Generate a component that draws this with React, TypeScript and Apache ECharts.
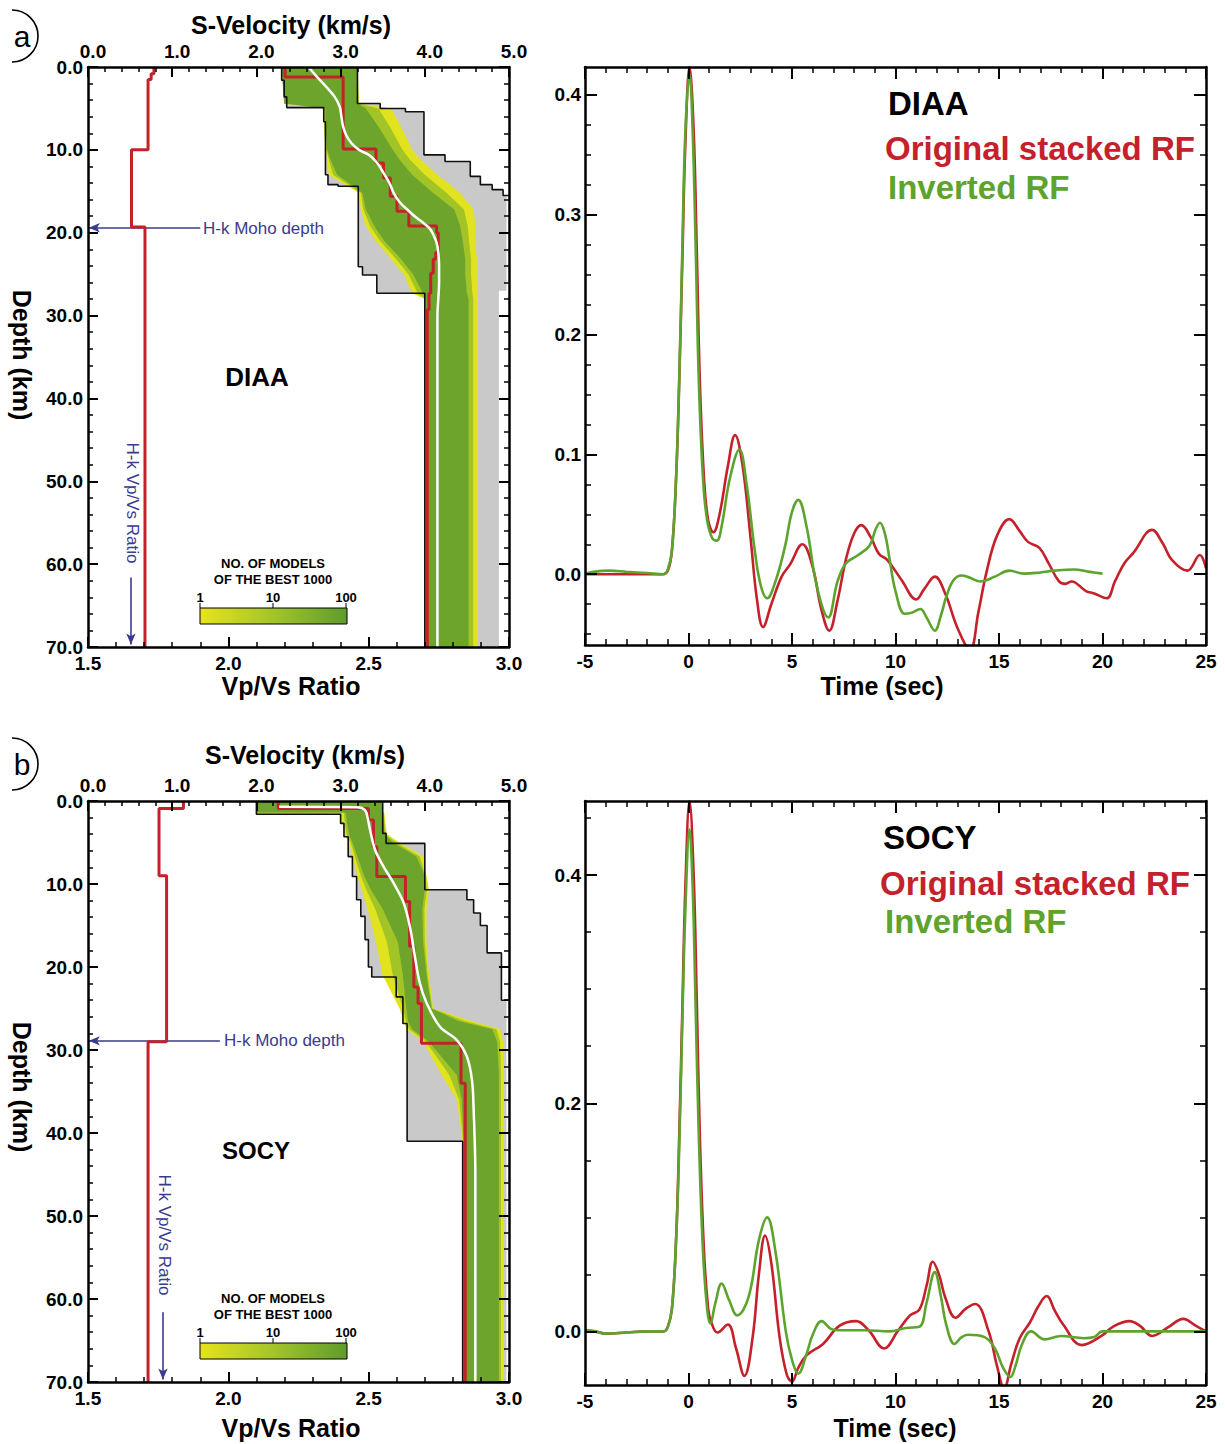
import React, { useEffect, useRef } from "react";
import * as echarts from "echarts";

const FONT = '"Liberation Sans", Arial, Helvetica, sans-serif';
const RED = "#c4212b";
const GREEN_LINE = "#5da42e";
const BLUE = "#3a3a8e";
const GRAY = "#c9c9c9";
const YELLOW = "#e2e31f";
const MIDGREEN = "#a3c427";
const COREGREEN = "#6ca42c";

// ---------- Receiver functions: [time (s), amplitude] ----------
const diaaOriginal: number[][] = [
  [-5, 0.0], [-4, 0.0], [-3, 0.0], [-2, 0.0], [-1.3, 0.0], [-1.0, 0.003], [-0.8, 0.02], [-0.6, 0.08],
  [-0.45, 0.16], [-0.3, 0.26], [-0.15, 0.36], [0.05, 0.423], [0.25, 0.37], [0.4, 0.27], [0.55, 0.16],
  [0.75, 0.08], [0.95, 0.045], [1.2, 0.035], [1.5, 0.05], [1.9, 0.09], [2.25, 0.116], [2.6, 0.092],
  [3.0, 0.03], [3.3, -0.02], [3.6, -0.044], [4.0, -0.025], [4.5, -0.002], [4.9, 0.008], [5.5, 0.025],
  [6.0, 0.006], [6.4, -0.028], [6.8, -0.047], [7.2, -0.022], [7.6, 0.012], [8.0, 0.034], [8.35, 0.041],
  [8.8, 0.031], [9.2, 0.017], [9.6, 0.012], [10.3, -0.005], [11.0, -0.021], [11.4, -0.012], [11.9, -0.002],
  [12.4, -0.016], [13.0, -0.045], [13.6, -0.063], [14.0, -0.032], [14.4, 0.002], [14.9, 0.032], [15.5, 0.046],
  [16.0, 0.036], [16.4, 0.027], [16.95, 0.022], [17.4, 0.009], [17.9, -0.006], [18.2, -0.008], [18.5, -0.006],
  [19.2, -0.014], [19.6, -0.016], [20.2, -0.02], [20.6, -0.006], [21.05, 0.009], [21.5, 0.018], [22.4, 0.037],
  [22.9, 0.026], [23.35, 0.012], [24.1, 0.003], [24.7, 0.016], [25, 0.005],
];
const diaaInverted: number[][] = [
  [-5, 0.0], [-4.6, 0.002], [-3.8, 0.003], [-3, 0.002], [-2, 0.001], [-1.2, 0.0], [-1.0, 0.004], [-0.8, 0.02],
  [-0.6, 0.08], [-0.45, 0.16], [-0.3, 0.27], [-0.15, 0.37], [0.05, 0.417], [0.2, 0.37], [0.35, 0.27],
  [0.5, 0.16], [0.7, 0.08], [0.9, 0.045], [1.15, 0.03], [1.37, 0.028], [1.6, 0.04], [2.0, 0.08], [2.46, 0.104],
  [2.8, 0.076], [3.2, 0.02], [3.5, -0.01], [3.8, -0.02], [4.2, -0.006], [4.66, 0.023], [5.0, 0.052], [5.3, 0.062],
  [5.7, 0.04], [6.2, -0.01], [6.75, -0.036], [7.2, -0.006], [7.6, 0.009], [8.2, 0.016], [8.75, 0.024],
  [9.05, 0.038], [9.25, 0.043], [9.5, 0.033], [9.7, 0.014], [10.0, -0.014], [10.45, -0.033], [10.8, -0.032],
  [11.2, -0.029], [11.5, -0.036], [11.9, -0.047], [12.2, -0.034], [12.45, -0.019], [12.8, -0.005], [13.2, -0.001],
  [13.6, -0.003], [14.1, -0.006], [14.8, -0.002], [15.5, 0.003], [16.2, 0.0005], [17.0, 0.0015], [17.7, 0.003],
  [18.6, 0.004], [19.4, 0.002], [20, 0.0005],
];
const socyOriginal: number[][] = [
  [-5, 0.001], [-4.5, 0.0], [-4, -0.002], [-3, -0.001], [-2, 0.0], [-1.2, 0.0], [-1.0, 0.004], [-0.8, 0.02],
  [-0.6, 0.08], [-0.45, 0.17], [-0.3, 0.28], [-0.15, 0.39], [0.05, 0.465], [0.25, 0.4], [0.4, 0.29],
  [0.55, 0.17], [0.75, 0.07], [0.95, 0.02], [1.1, 0.008], [1.4, -0.001], [1.9, 0.006], [2.3, -0.015],
  [2.7, -0.039], [3.1, -0.005], [3.4, 0.05], [3.7, 0.084], [4.0, 0.06], [4.4, -0.005], [4.75, -0.038],
  [5.0, -0.044], [5.3, -0.032], [5.7, -0.021], [6.5, -0.011], [7.3, 0.005], [8.1, 0.009], [8.7, 0.001],
  [9.45, -0.015], [10.1, 0.0], [10.7, 0.014], [11.15, 0.019], [11.5, 0.04], [11.8, 0.061], [12.1, 0.05],
  [12.4, 0.03], [12.9, 0.012], [13.4, 0.02], [13.85, 0.024], [14.5, 0.0], [14.9, -0.03], [15.25, -0.05],
  [15.6, -0.028], [16.0, -0.006], [16.5, 0.008], [16.9, 0.022], [17.3, 0.031], [17.7, 0.018], [18.1, 0.006],
  [19.0, -0.012], [19.95, -0.004], [20.5, 0.004], [21.3, 0.009], [21.8, 0.005], [22.4, -0.004], [23.2, 0.004],
  [23.9, 0.011], [24.5, 0.005], [25, 0.0],
];
const socyInverted: number[][] = [
  [-5, 0.001], [-4.5, 0.0], [-4, -0.002], [-3, -0.001], [-2, 0.0], [-1.2, 0.0], [-1.0, 0.004], [-0.8, 0.02],
  [-0.6, 0.08], [-0.45, 0.16], [-0.3, 0.27], [-0.15, 0.37], [0.05, 0.44], [0.2, 0.39], [0.35, 0.28],
  [0.5, 0.17], [0.7, 0.07], [0.9, 0.02], [1.05, 0.007], [1.3, 0.025], [1.6, 0.042], [1.95, 0.028],
  [2.35, 0.014], [2.9, 0.03], [3.4, 0.08], [3.8, 0.1], [4.2, 0.07], [4.7, 0.0], [5.0, -0.025], [5.3, -0.037],
  [5.7, -0.02], [6.0, -0.003], [6.43, 0.009], [6.9, 0.002], [7.3, 0.001], [8.5, 0.001], [9.7, 0.0],
  [10.5, 0.003], [11.15, 0.004], [11.5, 0.025], [11.9, 0.052], [12.2, 0.03], [12.45, 0.006], [12.85, -0.011],
  [13.2, -0.005], [13.5, -0.003], [14.3, -0.005], [14.8, -0.015], [15.2, -0.032], [15.55, -0.04], [15.8, -0.03],
  [16.1, -0.012], [16.55, 0.0], [17.2, -0.007], [18.0, -0.004], [19.1, -0.006], [19.6, -0.005], [20, 0.0],
  [25, 0.0],
];

// ---------- Velocity models: [S-velocity (km/s), depth (km)] ----------
const diaaEnvelopeLeft: number[][] = [
  [2.30, 0], [2.30, 1.6], [2.33, 1.6], [2.33, 3.6], [2.36, 3.6], [2.36, 4.9], [2.80, 4.9], [2.80, 6.6],
  [2.82, 6.6], [2.82, 13.0], [2.85, 13.0], [2.85, 14.2], [2.97, 14.2], [2.97, 14.4], [3.21, 14.4],
  [3.21, 24.1], [3.26, 24.1], [3.26, 25.1], [3.43, 25.1], [3.43, 27.3], [4.00, 27.3], [4.00, 70],
];
const diaaEnvelopeRight: number[][] = [
  [3.20, 0], [3.20, 4.4], [3.47, 4.4], [3.47, 5.0], [3.77, 5.0], [3.77, 5.4], [3.99, 5.4], [3.99, 10.6],
  [4.24, 10.6], [4.24, 11.4], [4.54, 11.4], [4.54, 13.2], [4.66, 13.2], [4.66, 14.2], [4.80, 14.2],
  [4.80, 14.8], [4.93, 14.8], [4.93, 15.5], [5.0, 15.5],
];
const diaaGrayTail: number[][] = [[4.97, 15.5], [4.97, 27], [4.88, 27], [4.88, 70]];
const diaaBandDepth = [0, 4.4, 5.0, 7.2, 10, 11.2, 13, 15.2, 17.2, 19.2, 21, 23.2, 25, 27.3, 28, 70];
const diaaOuterLeft = [2.30, 2.33, 2.80, 2.80, 2.82, 2.84, 2.86, 3.22, 3.24, 3.30, 3.42, 3.60, 3.75, 3.85, 4.00, 4.00];
const diaaOuterRight = [3.20, 3.22, 3.60, 3.72, 3.85, 3.95, 4.15, 4.42, 4.58, 4.60, 4.60, 4.62, 4.62, 4.63, 4.63, 4.63];
const diaaCoreLeft = [2.30, 2.33, 2.82, 2.82, 2.84, 2.88, 2.96, 3.26, 3.30, 3.40, 3.52, 3.72, 3.86, 3.98, 4.01, 4.01];
const diaaCoreRight = [3.20, 3.20, 3.30, 3.45, 3.62, 3.70, 3.85, 4.10, 4.35, 4.42, 4.45, 4.48, 4.48, 4.50, 4.52, 4.52];
const diaaBestModel: number[][] = [
  [2.34, 0], [2.34, 1.2], [3.03, 1.2], [3.03, 9.9], [3.42, 9.9], [3.42, 11.6], [3.51, 11.6], [3.51, 13.4],
  [3.59, 13.4], [3.59, 15.6], [3.67, 15.6], [3.67, 17.4], [3.81, 17.4], [3.81, 19.2], [4.14, 19.2],
  [4.14, 20.0], [4.16, 20.0], [4.16, 22.4], [4.13, 22.4], [4.13, 23.2], [4.10, 23.2], [4.10, 24.9],
  [4.07, 24.9], [4.07, 27.3], [4.05, 27.3], [4.05, 29.3], [4.03, 29.3], [4.03, 70],
];
const diaaMeanModel: number[][] = [
  [2.62, 0], [2.72, 1.2], [2.83, 2.4], [2.93, 3.6], [2.99, 4.8], [3.01, 6], [3.03, 7.2], [3.07, 8.3],
  [3.13, 9.2], [3.22, 10], [3.35, 10.7], [3.45, 11.8], [3.51, 12.8], [3.58, 14], [3.63, 15.2], [3.70, 16.3],
  [3.79, 17.2], [3.89, 18.1], [3.98, 18.8], [4.06, 19.5], [4.10, 20.2], [4.14, 21.2], [4.16, 22.4],
  [4.17, 24], [4.17, 26], [4.16, 28], [4.15, 30], [4.15, 70],
];
// Vp/Vs profile: [Vp/Vs, depth]
const diaaVpVs: number[][] = [
  [1.735, 0], [1.735, 0.8], [1.725, 0.8], [1.725, 1.5], [1.714, 1.5], [1.714, 10], [1.655, 10],
  [1.655, 19.3], [1.703, 19.3], [1.703, 70],
];
const diaaMohoDepth = 19.4;
const diaaHkVpVs = 1.653;

const socyEnvelopeLeft: number[][] = [
  [2.0, 0], [2.0, 1.6], [3.0, 1.6], [3.0, 2.7], [3.04, 2.7], [3.04, 4.3], [3.09, 4.3], [3.09, 6.7],
  [3.14, 6.7], [3.14, 9.1], [3.19, 9.1], [3.19, 11.9], [3.24, 11.9], [3.24, 13.9], [3.29, 13.9],
  [3.29, 16.7], [3.33, 16.7], [3.33, 20.0], [3.37, 20.0], [3.37, 21.2], [3.66, 21.2], [3.66, 23.6],
  [3.74, 23.6], [3.74, 26.8], [3.79, 26.8], [3.79, 41], [4.45, 41], [4.45, 70],
];
const socyEnvelopeRight: number[][] = [
  [3.50, 0], [3.50, 3.9], [3.54, 3.9], [3.54, 5.1], [4.0, 5.1], [4.0, 10.7], [4.50, 10.7], [4.50, 11.9],
  [4.58, 11.9], [4.58, 13.5], [4.66, 13.5], [4.66, 15.0], [4.74, 15.0], [4.74, 18.3], [4.91, 18.3],
  [4.91, 24], [5.0, 24],
];
const socyGrayTail: number[][] = [[4.97, 24], [4.97, 70]];
const socyBandDepth = [0, 1.4, 1.4, 4, 5, 6.7, 9, 10.7, 13, 17, 21, 25, 26.5, 27.5, 29, 33, 36, 41, 70];
const socyOuterLeft = [2.0, 2.0, 3.01, 3.04, 3.10, 3.14, 3.20, 3.25, 3.32, 3.42, 3.50, 3.70, 3.75, 3.78, 3.98, 4.20, 4.38, 4.45, 4.45];
const socyOuterRight = [3.5, 3.5, 3.52, 3.55, 3.70, 3.98, 4.02, 4.05, 4.02, 4.02, 4.05, 4.10, 4.55, 4.90, 4.93, 4.93, 4.93, 4.93, 4.93];
const socyCoreLeft = [2.0, 2.0, 3.06, 3.10, 3.14, 3.20, 3.28, 3.36, 3.50, 3.68, 3.74, 3.78, 3.80, 3.85, 4.05, 4.38, 4.44, 4.46, 4.46];
const socyCoreRight = [3.5, 3.5, 3.5, 3.52, 3.62, 3.90, 4.00, 4.00, 3.97, 3.98, 4.02, 4.08, 4.40, 4.80, 4.86, 4.88, 4.88, 4.88, 4.88];
const socyBestModel: number[][] = [
  [2.26, 0], [2.26, 0.9], [3.33, 0.9], [3.33, 2.3], [3.39, 2.3], [3.39, 5.5], [3.43, 5.5], [3.43, 9.1],
  [3.77, 9.1], [3.77, 12.1], [3.82, 12.1], [3.82, 17.5], [3.87, 17.5], [3.87, 22.4], [3.92, 22.4],
  [3.92, 24.4], [3.96, 24.4], [3.96, 29.2], [4.43, 29.2], [4.43, 34], [4.48, 34], [4.48, 70],
];
const socyMeanModel: number[][] = [
  [2.27, 0.7], [3.2, 0.75], [3.29, 1.1], [3.32, 2], [3.35, 3.5], [3.41, 5.9], [3.51, 7.9], [3.63, 9.9],
  [3.75, 12.3], [3.83, 15.5], [3.88, 18.6], [3.94, 21.9], [4.02, 24.3], [4.18, 27.2], [4.38, 28.8],
  [4.5, 30.8], [4.56, 33.6], [4.58, 37.2], [4.6, 45], [4.6, 70],
];
const socyVpVs: number[][] = [
  [1.84, 0], [1.84, 0.9], [1.753, 0.9], [1.753, 9], [1.78, 9], [1.78, 29.0], [1.714, 29.0], [1.714, 70],
];
const socyMohoDepth = 28.9;
const socyHkVpVs = 1.767;

// ---------- Tick values ----------
const velTickFmt = (v: number) => v.toFixed(1);
const diaaAmpMajor = [0, 0.1, 0.2, 0.3, 0.4];
const diaaAmpRange = [-0.059, 0.423];
const socyAmpMajor = [0, 0.2, 0.4];
const socyAmpRange = [-0.047, 0.465];

function minorValues(min: number, max: number, step: number, majors: number[]) {
  const out: number[] = [];
  const start = Math.ceil(min / step - 1e-9);
  for (let k = start; k * step <= max + 1e-9; k++) {
    const v = +(k * step).toFixed(4);
    if (!majors.some((m) => Math.abs(m - v) < 1e-6)) out.push(v);
  }
  return out;
}

function bandPolygon(depth: number[], left: number[], right: number[]) {
  const pts = depth.map((d, i) => [left[i], d]);
  for (let i = depth.length - 1; i >= 0; i--) pts.push([right[i], depth[i]]);
  return pts;
}
const avg = (a: number[], b: number[]) => a.map((v, i) => (v + b[i]) / 2);

const tickLine = { color: "#000", width: 2 };
const frameLine = { show: true, onZero: false, lineStyle: { color: "#000", width: 2.5 } };
const noLine = { show: false, onZero: false };
const labelStyle = { color: "#000", fontFamily: FONT, fontWeight: "bold" as const, fontSize: 19 };

function polySeries(points: number[][], xi: number, yi: number, fill: string, z: number) {
  return {
    type: "custom",
    xAxisIndex: xi,
    yAxisIndex: yi,
    z,
    silent: true,
    clip: true,
    data: [[points[0][0], points[0][1]]],
    renderItem: (_p: any, api: any) => ({
      type: "polygon",
      shape: { points: points.map((p) => api.coord(p)) },
      style: { fill, stroke: "none" },
    }),
  };
}

function lineSeries(data: number[][], xi: number, yi: number, color: string, width: number, z: number, smooth: any = false) {
  return {
    type: "line",
    xAxisIndex: xi,
    yAxisIndex: yi,
    data,
    symbol: "none",
    showSymbol: false,
    smooth,
    z,
    silent: true,
    clip: true,
    lineStyle: { color, width },
  };
}

function modelSeries(
  xVel: number, xVp: number, yDepth: number,
  envL: number[][], envR: number[][], grayTail: number[][],
  depth: number[], outerL: number[], outerR: number[], coreL: number[], coreR: number[],
  best: number[][], mean: number[][], vpvs: number[][], moho: number, hk: number, mohoStart: number
) {
  const grayPoly = [...envL, ...grayTail.slice().reverse(), ...envR.slice().reverse()];
  const midL = avg(outerL, coreL);
  const midR = avg(outerR, coreR);
  const vpSeries: any = lineSeries(vpvs, xVp, yDepth, RED, 3, 6);
  vpSeries.markLine = {
    silent: true,
    symbol: ["none", "arrow"],
    symbolSize: [7, 11],
    lineStyle: { color: BLUE, width: 1.6, type: "solid" },
    label: { show: false },
    emphasis: { disabled: true },
    data: [
      [{ coord: [mohoStart, moho] }, { coord: [1.503, moho] }],
      [{ coord: [hk, 61.6] }, { coord: [hk, 69.7] }],
    ],
  };
  return [
    polySeries(grayPoly, xVel, yDepth, GRAY, 1),
    polySeries(bandPolygon(depth, outerL, outerR), xVel, yDepth, YELLOW, 2),
    polySeries(bandPolygon(depth, midL, midR), xVel, yDepth, MIDGREEN, 2),
    polySeries(bandPolygon(depth, coreL, coreR), xVel, yDepth, COREGREEN, 2),
    lineSeries(envL, xVel, yDepth, "#111", 1.6, 3),
    lineSeries(envR, xVel, yDepth, "#111", 1.6, 3),
    lineSeries(best, xVel, yDepth, RED, 3, 4),
    lineSeries(mean, xVel, yDepth, "#ffffff", 2.5, 5, 0.35),
    vpSeries,
  ];
}

const minorTickStyle = { color: "#000", width: 1.5 };

function leftAxes(grid: number) {
  const x = [
    {
      type: "value", gridIndex: grid, position: "top", min: 0, max: 5, interval: 1, z: 10,
      axisLine: frameLine,
      axisTick: { show: true, inside: true, length: 10, lineStyle: tickLine },
      minorTick: { show: true, splitNumber: 5, length: 5, lineStyle: minorTickStyle },
      axisLabel: { ...labelStyle, margin: 6, formatter: velTickFmt, padding: [0, 0, 0, 10] },
      splitLine: { show: false }, minorSplitLine: { show: false },
    },
    {
      type: "value", gridIndex: grid, position: "bottom", min: 1.5, max: 3.0, interval: 0.5, z: 10,
      axisLine: frameLine,
      axisTick: { show: true, inside: true, length: 10, lineStyle: tickLine },
      minorTick: { show: true, splitNumber: 5, length: 5, lineStyle: minorTickStyle },
      axisLabel: { ...labelStyle, margin: 7, formatter: velTickFmt },
      splitLine: { show: false }, minorSplitLine: { show: false },
    },
  ];
  const y = [
    {
      type: "value", gridIndex: grid, position: "left", inverse: true, min: 0, max: 70, interval: 10, z: 10,
      axisLine: frameLine,
      axisTick: { show: true, inside: true, length: 10, lineStyle: tickLine },
      minorTick: { show: true, splitNumber: 5, length: 5, lineStyle: minorTickStyle },
      axisLabel: { ...labelStyle, margin: 5, formatter: velTickFmt },
      splitLine: { show: false }, minorSplitLine: { show: false },
    },
    {
      type: "value", gridIndex: grid, position: "right", inverse: true, min: 0, max: 70, interval: 10, z: 10,
      axisLine: frameLine,
      axisTick: { show: true, inside: true, length: 10, lineStyle: tickLine },
      minorTick: { show: true, splitNumber: 5, length: 5, lineStyle: minorTickStyle },
      axisLabel: { show: false },
      splitLine: { show: false }, minorSplitLine: { show: false },
    },
  ];
  return { x, y };
}

function rightAxes(grid: number, range: number[], majors: number[], minorStep: number) {
  const minors = minorValues(range[0], range[1], minorStep, majors);
  const tx = (pos: string, labels: boolean) => ({
    type: "value", gridIndex: grid, position: pos, min: -5, max: 25, interval: 5, z: 10,
    axisLine: frameLine,
    axisTick: { show: true, inside: true, length: 12, lineStyle: tickLine },
    minorTick: { show: true, splitNumber: 5, length: 6, lineStyle: minorTickStyle },
    axisLabel: labels ? { ...labelStyle, margin: 7 } : { show: false },
    splitLine: { show: false }, minorSplitLine: { show: false },
  });
  const base = { type: "value", gridIndex: grid, min: range[0], max: range[1], z: 10, splitLine: { show: false } };
  const y = [
    {
      ...base, position: "left", axisLine: frameLine,
      axisTick: { show: true, inside: true, length: 12, customValues: majors, lineStyle: tickLine },
      axisLabel: { ...labelStyle, margin: 4, customValues: majors, formatter: (v: number) => v.toFixed(1) },
    },
    {
      ...base, position: "left", axisLine: noLine,
      axisTick: { show: true, inside: true, length: 6, customValues: minors, lineStyle: minorTickStyle },
      axisLabel: { show: false },
    },
    {
      ...base, position: "right", axisLine: frameLine,
      axisTick: { show: true, inside: true, length: 12, customValues: majors, lineStyle: tickLine },
      axisLabel: { show: false },
    },
    {
      ...base, position: "right", axisLine: noLine,
      axisTick: { show: true, inside: true, length: 6, customValues: minors, lineStyle: minorTickStyle },
      axisLabel: { show: false },
    },
  ];
  return { x: [tx("bottom", true), tx("top", false)], y };
}

function txt(text: string, x: number, y: number, font: string, fill = "#000", align = "center", rotation = 0) {
  return {
    type: "text", x, y, rotation, silent: true, z: 20,
    style: { text, fill, font, textAlign: align, textVerticalAlign: "middle" },
  };
}

function colorbar(dy: number) {
  return [
    txt("NO. OF MODELS", 273, 563 + dy, `bold 13px ${FONT}`),
    txt("OF THE BEST 1000", 273, 579 + dy, `bold 13px ${FONT}`),
    txt("1", 200, 597 + dy, `bold 13px ${FONT}`),
    txt("10", 273, 597 + dy, `bold 13px ${FONT}`),
    txt("100", 346, 597 + dy, `bold 13px ${FONT}`),
    {
      type: "rect", silent: true, z: 20,
      shape: { x: 200, y: 608 + dy, width: 147, height: 16 },
      style: {
        fill: new echarts.graphic.LinearGradient(0, 0, 1, 0, [
          { offset: 0, color: "#e6e31c" },
          { offset: 0.5, color: "#a3c42a" },
          { offset: 1, color: "#5f9c2d" },
        ]),
        stroke: "#000",
        lineWidth: 1,
      },
    },
    ...[200, 273, 346].map((x) => ({
      type: "line", silent: true, z: 20,
      shape: { x1: x, y1: 603 + dy, x2: x, y2: 608 + dy },
      style: { stroke: "#000", lineWidth: 1 },
    })),
  ];
}

function panelLetter(letter: string, cy: number) {
  return [
    txt(letter, 22, cy, `30px ${FONT}`),
    {
      type: "arc", silent: true, z: 20,
      shape: { cx: 12, cy, r: 26, startAngle: -Math.PI / 2, endAngle: Math.PI / 2 },
      style: { stroke: "#000", lineWidth: 1.6, fill: "none" },
    },
  ];
}

export default function App() {
  const ref = useRef<HTMLDivElement>(null);
  useEffect(() => {
    document.body.style.margin = "0";
    const chart = echarts.init(ref.current!, null, { renderer: "svg" });
    const la = leftAxes(0);
    const ra = rightAxes(1, diaaAmpRange, diaaAmpMajor, 0.025);
    const lb = leftAxes(2);
    const rb = rightAxes(3, socyAmpRange, socyAmpMajor, 0.05);
    // xAxis indices: 0 vel a, 1 vpvs a, 2 time a, 3 time-top a, 4 vel b, 5 vpvs b, 6 time b, 7 time-top b
    // yAxis indices: 0,1 depth a, 2..5 amp a, 6,7 depth b, 8..11 amp b
    const BIG = `bold 33px ${FONT}`;
    const AX = `bold 25px ${FONT}`;
    const option: any = {
      animation: false,
      backgroundColor: "#ffffff",
      textStyle: { fontFamily: FONT },
      grid: [
        { left: 88, top: 67, width: 421, height: 580 },
        { left: 585, top: 67, width: 621, height: 578 },
        { left: 88, top: 801, width: 421, height: 581 },
        { left: 585, top: 801, width: 621, height: 584 },
      ],
      xAxis: [...la.x, ...ra.x, ...lb.x, ...rb.x],
      yAxis: [...la.y, ...ra.y, ...lb.y, ...rb.y],
      series: [
        ...modelSeries(0, 1, 0, diaaEnvelopeLeft, diaaEnvelopeRight, diaaGrayTail, diaaBandDepth,
          diaaOuterLeft, diaaOuterRight, diaaCoreLeft, diaaCoreRight, diaaBestModel, diaaMeanModel,
          diaaVpVs, diaaMohoDepth, diaaHkVpVs, 1.9),
        lineSeries(diaaOriginal, 2, 2, RED, 2.6, 4, 0.4),
        lineSeries(diaaInverted, 2, 2, GREEN_LINE, 2.6, 5, 0.4),
        ...modelSeries(4, 5, 6, socyEnvelopeLeft, socyEnvelopeRight, socyGrayTail, socyBandDepth,
          socyOuterLeft, socyOuterRight, socyCoreLeft, socyCoreRight, socyBestModel, socyMeanModel,
          socyVpVs, socyMohoDepth, socyHkVpVs, 1.97),
        lineSeries(socyOriginal, 6, 8, RED, 2.6, 4, 0.4),
        lineSeries(socyInverted, 6, 8, GREEN_LINE, 2.6, 5, 0.4),
      ],
      graphic: [
        ...panelLetter("a", 36),
        ...panelLetter("b", 764),
        txt("S-Velocity (km/s)", 291, 25, AX),
        txt("S-Velocity (km/s)", 305, 755, AX),
        txt("Depth (km)", 22, 355, AX, "#000", "center", -Math.PI / 2),
        txt("Depth (km)", 22, 1087, AX, "#000", "center", -Math.PI / 2),
        txt("Vp/Vs Ratio", 291, 686, AX),
        txt("Vp/Vs Ratio", 291, 1428, AX),
        txt("Time (sec)", 882, 686, AX),
        txt("Time (sec)", 895, 1428, AX),
        txt("DIAA", 257, 377, `bold 26px ${FONT}`),
        txt("SOCY", 256, 1150, `bold 24px ${FONT}`),
        txt("H-k Moho depth", 203, 228, `17px ${FONT}`, BLUE, "left"),
        txt("H-k Moho depth", 224, 1040, `17px ${FONT}`, BLUE, "left"),
        txt("H-k Vp/Vs Ratio", 132, 503, `17px ${FONT}`, BLUE, "center", -Math.PI / 2),
        txt("H-k Vp/Vs Ratio", 164, 1235, `17px ${FONT}`, BLUE, "center", -Math.PI / 2),
        ...colorbar(0),
        ...colorbar(735),
        txt("DIAA", 888, 103, BIG, "#000", "left"),
        txt("Original stacked RF", 885, 148, BIG, RED, "left"),
        txt("Inverted RF", 888, 187, BIG, GREEN_LINE, "left"),
        txt("SOCY", 883, 837, BIG, "#000", "left"),
        txt("Original stacked RF", 880, 883, BIG, RED, "left"),
        txt("Inverted RF", 885, 921, BIG, GREEN_LINE, "left"),
      ],
    };
    chart.setOption(option);
    return () => chart.dispose();
  }, []);
  return <div ref={ref} style={{ width: 1225, height: 1444 }} />;
}
